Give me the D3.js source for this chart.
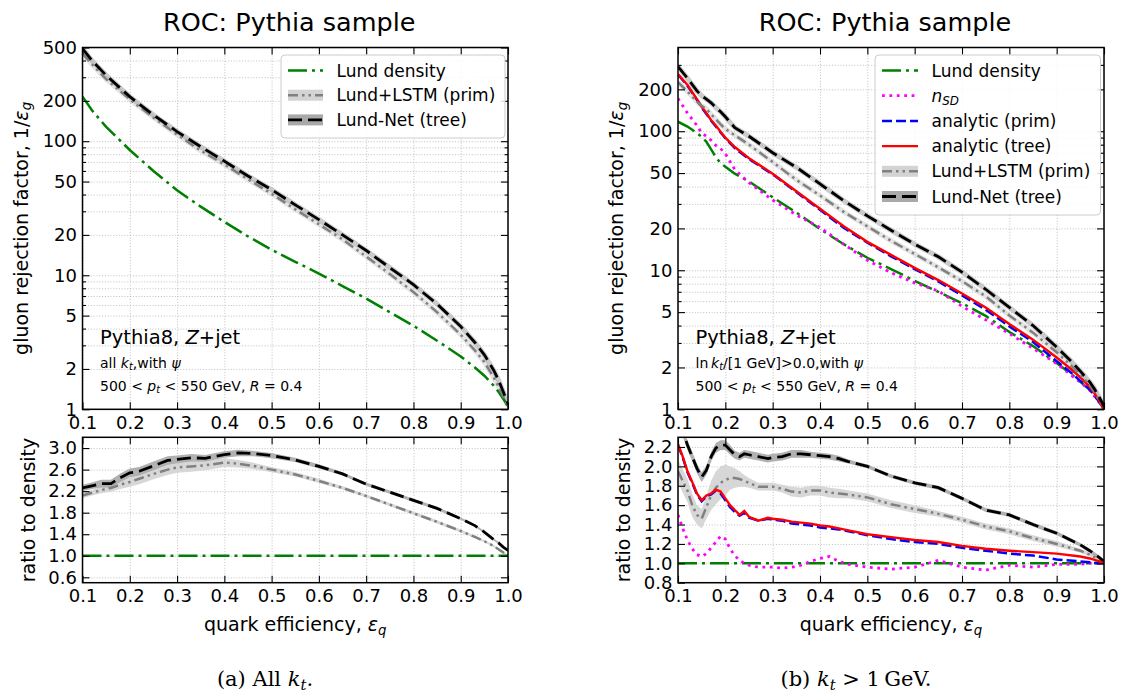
<!DOCTYPE html>
<html lang="en">
<head>
<meta charset="UTF-8" />
<title>ROC: Pythia sample</title>
<script src="https://d3js.org/d3.v7.min.js"></script>
<style>
  body { margin: 0; background: #fff; }
  svg { font-family: "DejaVu Sans", sans-serif; }
</style>
</head>
<body>
<svg width="1128" height="695"></svg>
<script>
// ---------- data: (a) all kt ----------
const effTopA = [0.1, 0.12, 0.15, 0.2, 0.25, 0.3, 0.35, 0.4, 0.45, 0.5, 0.55, 0.6, 0.65, 0.7, 0.75, 0.8, 0.85, 0.9, 0.93, 0.95, 0.97, 0.98, 0.99, 1.0];
const densityA = [215, 170, 128, 86, 60, 43, 32.5, 25, 19.5, 15.5, 12.6, 10.3, 8.3, 6.7, 5.3, 4.2, 3.25, 2.48, 2.05, 1.78, 1.5, 1.35, 1.2, 1.05];
const lstmA = [450, 375, 290, 205, 150, 112, 85, 67, 52, 40.5, 31, 24, 18.5, 13.8, 10.2, 7.5, 5.3, 3.6, 2.75, 2.25, 1.72, 1.47, 1.24, 1.05];
const lundNetA = [490, 400, 310, 215, 157, 118, 91, 71, 55, 43.5, 33.5, 26, 20, 15.3, 11.4, 8.5, 6.1, 4.15, 3.15, 2.55, 1.95, 1.65, 1.35, 1.1];

const effRatioA = [0.1, 0.12, 0.14, 0.16, 0.18, 0.2, 0.22, 0.25, 0.28, 0.3, 0.33, 0.36, 0.4, 0.43, 0.46, 0.5, 0.55, 0.6, 0.65, 0.7, 0.75, 0.8, 0.85, 0.9, 0.93, 0.95, 0.97, 0.98, 0.99, 1.0];
const lstmRatioA = [2.12, 2.17, 2.22, 2.26, 2.32, 2.37, 2.43, 2.52, 2.60, 2.64, 2.66, 2.68, 2.73, 2.71, 2.67, 2.60, 2.51, 2.39, 2.26, 2.11, 1.95, 1.79, 1.63, 1.46, 1.35, 1.27, 1.18, 1.12, 1.06, 1.0];
const lstmErrA = [0.05, 0.05, 0.06, 0.07, 0.08, 0.09, 0.1, 0.1, 0.1, 0.1, 0.1, 0.09, 0.08, 0.07, 0.06, 0.05, 0.04, 0.04, 0.03, 0.03, 0.03, 0.03, 0.03, 0.03, 0.02, 0.02, 0.02, 0.02, 0.02, 0.02];
const netRatioA = [2.26, 2.30, 2.34, 2.34, 2.45, 2.54, 2.57, 2.67, 2.77, 2.79, 2.82, 2.81, 2.88, 2.91, 2.90, 2.86, 2.78, 2.66, 2.52, 2.33, 2.18, 2.03, 1.88, 1.69, 1.56, 1.44, 1.30, 1.24, 1.16, 1.10];
const netErrA = [0.06, 0.06, 0.07, 0.07, 0.08, 0.08, 0.08, 0.08, 0.08, 0.07, 0.07, 0.06, 0.06, 0.06, 0.05, 0.05, 0.04, 0.04, 0.03, 0.03, 0.03, 0.03, 0.03, 0.02, 0.02, 0.02, 0.02, 0.02, 0.02, 0.02];

// ---------- data: (b) kt > 1 GeV ----------
const effTopB = [0.1, 0.12, 0.14, 0.15, 0.16, 0.17, 0.18, 0.19, 0.2, 0.22, 0.25, 0.3, 0.35, 0.4, 0.45, 0.5, 0.55, 0.6, 0.65, 0.7, 0.75, 0.8, 0.85, 0.9, 0.93, 0.95, 0.97, 0.98, 0.99, 1.0];
const densityB = [117, 108, 97, 91, 84, 74, 65, 59, 55.5, 49.5, 43.5, 33.5, 26, 19.8, 15.4, 12.3, 10.2, 8.4, 7.0, 5.8, 4.7, 3.6, 2.85, 2.15, 1.8, 1.58, 1.38, 1.25, 1.13, 1.0];
const nsdB = [172, 135, 110, 97, 92, 86, 79, 75, 69, 53, 42.6, 32, 25, 20.3, 15.4, 11.8, 9.6, 8.1, 7.1, 5.5, 4.4, 3.5, 2.74, 2.13, 1.77, 1.56, 1.37, 1.24, 1.12, 1.0];
const anaPrimB = [255, 212, 168, 148, 133, 119, 108, 98, 89, 75.5, 63, 49, 36.5, 27.2, 20.2, 15.8, 12.6, 10.2, 8.3, 6.6, 5.2, 3.95, 3.05, 2.22, 1.84, 1.6, 1.39, 1.26, 1.13, 1.0];
const anaTreeB = [258, 215, 170, 150, 135, 120, 110, 99, 90, 77, 64, 49.5, 37, 27.7, 20.7, 16.0, 12.9, 10.4, 8.5, 6.8, 5.4, 4.1, 3.17, 2.36, 1.95, 1.7, 1.45, 1.3, 1.15, 1.0];
const lstmB = [225, 193, 163, 152, 145, 132, 122, 112, 104, 93.5, 80, 60, 44.7, 34.5, 26.3, 20.7, 16.3, 13.1, 10.5, 8.35, 6.5, 4.73, 3.56, 2.57, 2.07, 1.77, 1.49, 1.33, 1.16, 1.02];
const lundNetB = [292, 240, 195, 180, 170, 160, 148, 138, 127, 106, 92, 70, 55, 41.8, 31.7, 24.6, 19.4, 15.4, 12.5, 9.7, 7.3, 5.4, 4.0, 2.8, 2.23, 1.88, 1.57, 1.4, 1.22, 1.05];

const effRatioB = [0.1, 0.11, 0.12, 0.13, 0.14, 0.15, 0.16, 0.17, 0.18, 0.19, 0.2, 0.21, 0.22, 0.23, 0.24, 0.25, 0.27, 0.29, 0.3, 0.32, 0.34, 0.36, 0.38, 0.4, 0.42, 0.44, 0.46, 0.5, 0.55, 0.6, 0.65, 0.7, 0.75, 0.8, 0.85, 0.9, 0.95, 0.97, 0.99, 1.0];
const nsdRatioB = [1.50, 1.36, 1.24, 1.15, 1.09, 1.07, 1.10, 1.16, 1.22, 1.28, 1.25, 1.15, 1.08, 1.03, 1.00, 0.98, 0.96, 0.96, 0.96, 0.95, 0.96, 0.98, 1.02, 1.05, 1.07, 1.02, 0.99, 0.96, 0.94, 0.96, 1.03, 0.96, 0.93, 0.98, 0.96, 0.99, 0.99, 1.0, 1.0, 1.0];
const anaPrimRatioB = [2.22, 2.09, 1.94, 1.83, 1.71, 1.64, 1.69, 1.71, 1.75, 1.72, 1.65, 1.58, 1.53, 1.49, 1.52, 1.47, 1.44, 1.46, 1.45, 1.44, 1.41, 1.40, 1.39, 1.37, 1.36, 1.35, 1.33, 1.29, 1.25, 1.22, 1.20, 1.16, 1.13, 1.10, 1.08, 1.04, 1.02, 1.01, 1.0, 1.0];
const anaTreeRatioB = [2.23, 2.10, 1.95, 1.84, 1.72, 1.65, 1.70, 1.72, 1.76, 1.74, 1.67, 1.60, 1.55, 1.50, 1.54, 1.48, 1.44, 1.47, 1.46, 1.45, 1.43, 1.42, 1.41, 1.39, 1.38, 1.36, 1.34, 1.30, 1.27, 1.24, 1.22, 1.18, 1.15, 1.13, 1.115, 1.10, 1.07, 1.05, 1.02, 1.0];
const lstmRatioB = [1.95, 1.85, 1.75, 1.60, 1.50, 1.46, 1.58, 1.70, 1.78, 1.83, 1.86, 1.88, 1.88, 1.87, 1.85, 1.83, 1.79, 1.79, 1.79, 1.77, 1.74, 1.73, 1.75, 1.75, 1.73, 1.72, 1.71, 1.68, 1.61, 1.56, 1.51, 1.45, 1.38, 1.33, 1.26, 1.20, 1.13, 1.09, 1.04, 1.01];
const lstmErrB = [0.12, 0.12, 0.12, 0.12, 0.10, 0.10, 0.12, 0.15, 0.17, 0.17, 0.16, 0.12, 0.10, 0.08, 0.06, 0.05, 0.04, 0.04, 0.04, 0.04, 0.05, 0.05, 0.05, 0.05, 0.05, 0.05, 0.04, 0.04, 0.04, 0.04, 0.03, 0.03, 0.03, 0.03, 0.03, 0.03, 0.02, 0.02, 0.02, 0.02];
const netRatioB = [2.45, 2.36, 2.22, 2.10, 1.98, 1.89, 1.96, 2.10, 2.19, 2.22, 2.22, 2.17, 2.12, 2.10, 2.13, 2.12, 2.10, 2.08, 2.09, 2.10, 2.13, 2.13, 2.12, 2.11, 2.10, 2.08, 2.05, 2.00, 1.90, 1.83, 1.78, 1.67, 1.55, 1.50, 1.40, 1.31, 1.19, 1.13, 1.06, 1.02];
const netErrB = [0.05, 0.05, 0.05, 0.05, 0.05, 0.05, 0.05, 0.05, 0.05, 0.05, 0.05, 0.05, 0.04, 0.04, 0.04, 0.04, 0.04, 0.04, 0.04, 0.04, 0.04, 0.04, 0.03, 0.03, 0.03, 0.03, 0.02, 0.02, 0.02, 0.02, 0.02, 0.02, 0.02, 0.02, 0.02, 0.02, 0.02, 0.02, 0.02, 0.02];

// density divided by itself
const effEnds = [0.1, 1.0];
const densityRatio = [1.0, 1.0];

// ticks
const effTicks = [0.1, 0.2, 0.3, 0.4, 0.5, 0.6, 0.7, 0.8, 0.9, 1.0];
const rejTicksA = [1, 2, 5, 10, 20, 50, 100, 200, 500];
const rejTicksB = [1, 2, 5, 10, 20, 50, 100, 200];
const ratioTicksA = [0.6, 1.0, 1.4, 1.8, 2.2, 2.6, 3.0];
const ratioTicksB = [0.8, 1.0, 1.2, 1.4, 1.6, 1.8, 2.0, 2.2];

const styles = {
  density: { color: "green", width: 2.5, dash: "19,5,3,5" },
  nsd: { color: "#ff00ff", width: 2.8, dash: "2.8,4.6" },
  prim: { color: "blue", width: 2.5, dash: "10,4" },
  tree: { color: "red", width: 2.4, dash: null },
  lstm: { color: "gray", width: 2.5, dash: "10,4,2.5,4,2.5,4", band: "#d3d3d3" },
  net: { color: "black", width: 2.8, dash: "14,6", band: "#a9a9a9" }
};

const svg = d3.select("svg");
const TOP_T = 47.5, TOP_B = 409.3, BOT_T = 437.3, BOT_B = 582.7;
const FONT = "DejaVu Sans, sans-serif";

// text with italic / subscript pieces (mathtext-ish)
function rich(sel, parts, size) {
  let low = false;
  parts.forEach(p => {
    const ts = sel.append("tspan").text(p.t);
    if (p.it) ts.attr("font-style", "italic");
    if (p.sub) {
      ts.attr("font-size", size * 0.7);
      if (!low) ts.attr("dy", size * 0.2);
      low = true;
    } else if (low) {
      ts.attr("dy", -size * 0.2);
      low = false;
    }
  });
  return sel;
}

function drawPanel(p) {
  const x = d3.scaleLinear().domain([0.1, 1.0]).range([p.x0, p.x1]);
  const yTop = d3.scaleLog().domain([1, p.topMax]).range([TOP_B, TOP_T]);
  const yRat = d3.scaleLinear().domain(p.ratioDomain).range([BOT_B, BOT_T]);
  const w = p.x1 - p.x0;

  const minorTop = [];
  for (let dec = 1; dec < p.topMax; dec *= 10)
    for (let k = 2; k < 10; k++) {
      const v = k * dec;
      if (v < p.topMax && !p.topTicks.includes(v)) minorTop.push(v);
    }

  const defs = svg.append("defs");
  defs.append("clipPath").attr("id", p.id + "-top").append("rect")
    .attr("x", p.x0).attr("y", TOP_T).attr("width", w).attr("height", TOP_B - TOP_T);
  defs.append("clipPath").attr("id", p.id + "-bot").append("rect")
    .attr("x", p.x0).attr("y", BOT_T).attr("width", w).attr("height", BOT_B - BOT_T);

  // grid
  function grid(g, axis) {
    g.call(axis);
    g.select(".domain").remove();
    g.selectAll("line").attr("stroke", "#b0b0b0").attr("stroke-width", 0.8).attr("stroke-dasharray", "1,1.8");
  }
  svg.append("g").attr("transform", `translate(0,${TOP_B})`)
    .call(g => grid(g, d3.axisBottom(x).tickValues(effTicks).tickSize(-(TOP_B - TOP_T)).tickFormat("")));
  svg.append("g").attr("transform", `translate(${p.x0},0)`)
    .call(g => grid(g, d3.axisLeft(yTop).tickValues(p.topTicks.concat(minorTop)).tickSize(-w).tickFormat("")));
  svg.append("g").attr("transform", `translate(0,${BOT_B})`)
    .call(g => grid(g, d3.axisBottom(x).tickValues(effTicks).tickSize(-(BOT_B - BOT_T)).tickFormat("")));
  svg.append("g").attr("transform", `translate(${p.x0},0)`)
    .call(g => grid(g, d3.axisLeft(yRat).tickValues(p.ratioTicks).tickSize(-w).tickFormat("")));

  // top panel curves
  const top = svg.append("g").attr("clip-path", `url(#${p.id}-top)`);
  const lineTop = d3.line().x(d => x(d[0])).y(d => yTop(d[1]));
  p.topSeries.forEach(s => {
    if (!s.style.band) return;
    top.append("path").attr("d", lineTop(d3.zip(p.effTop, s.values)))
      .attr("fill", "none").attr("stroke", s.style.band).attr("stroke-width", 5)
      .attr("stroke-linejoin", "round").attr("opacity", 0.6);
  });
  p.topSeries.forEach(s => {
    top.append("path").attr("d", lineTop(d3.zip(p.effTop, s.values)))
      .attr("fill", "none").attr("stroke", s.style.color).attr("stroke-width", s.style.width)
      .attr("stroke-dasharray", s.style.dash);
  });

  // ratio panel
  const bot = svg.append("g").attr("clip-path", `url(#${p.id}-bot)`);
  const lineBot = d3.line().x(d => x(d[0])).y(d => yRat(d[1]));
  const areaBot = d3.area().x(d => x(d[0])).y0(d => yRat(d[1] - d[2])).y1(d => yRat(d[1] + d[2]));
  p.ratioSeries.forEach(s => {
    if (!s.err) return;
    bot.append("path").attr("d", areaBot(d3.zip(s.eff, s.values, s.err)))
      .attr("fill", s.style.band).attr("opacity", 0.9);
  });
  p.ratioSeries.forEach(s => {
    bot.append("path").attr("d", lineBot(d3.zip(s.eff, s.values)))
      .attr("fill", "none").attr("stroke", s.style.color).attr("stroke-width", s.style.width)
      .attr("stroke-dasharray", s.style.dash);
  });

  // ticks
  function ticks(g, axis) {
    g.call(axis);
    g.select(".domain").remove();
    g.attr("font-size", 18).attr("font-family", FONT);
    g.selectAll("line").attr("stroke", "#000").attr("stroke-width", 1.1);
    g.selectAll("text").attr("fill", "#000");
  }
  const fmt = d3.format(".1f");
  [[TOP_B, TOP_T, yTop, p.topTicks, minorTop, d3.format("d")], [BOT_B, BOT_T, yRat, p.ratioTicks, [], fmt]]
    .forEach(([yb, yt, ys, major, minor, yfmt]) => {
      svg.append("g").attr("transform", `translate(0,${yb})`)
        .call(g => ticks(g, d3.axisBottom(x).tickValues(effTicks).tickSize(-7).tickPadding(7).tickFormat(fmt)));
      svg.append("g").attr("transform", `translate(0,${yt})`)
        .call(g => ticks(g, d3.axisTop(x).tickValues(effTicks).tickSize(-7).tickFormat("")));
      svg.append("g").attr("transform", `translate(${p.x0},0)`)
        .call(g => ticks(g, d3.axisLeft(ys).tickValues(major).tickSize(-7).tickPadding(5.5).tickFormat(yfmt)));
      svg.append("g").attr("transform", `translate(${p.x1},0)`)
        .call(g => ticks(g, d3.axisRight(ys).tickValues(major).tickSize(-7).tickFormat("")));
      if (minor.length) {
        svg.append("g").attr("transform", `translate(${p.x0},0)`)
          .call(g => ticks(g, d3.axisLeft(ys).tickValues(minor).tickSize(-3.5).tickFormat("")));
        svg.append("g").attr("transform", `translate(${p.x1},0)`)
          .call(g => ticks(g, d3.axisRight(ys).tickValues(minor).tickSize(-3.5).tickFormat("")));
      }
      svg.append("rect").attr("x", p.x0).attr("y", yt).attr("width", w).attr("height", yb - yt)
        .attr("fill", "none").attr("stroke", "#000").attr("stroke-width", 1.5);
    });

  // titles and axis labels
  svg.append("text").attr("x", (p.x0 + p.x1) / 2 - 6).attr("y", 31)
    .attr("text-anchor", "middle").attr("font-size", 25.5).text("ROC: Pythia sample");

  rich(svg.append("text").attr("text-anchor", "middle").attr("font-size", 19)
    .attr("transform", `translate(${p.x0 - 55},${(TOP_T + TOP_B) / 2}) rotate(-90)`),
    [{ t: "gluon rejection factor, 1/" }, { t: "\u03b5", it: true }, { t: "g", it: true, sub: true }], 19);
  svg.append("text").attr("text-anchor", "middle").attr("font-size", 19)
    .attr("transform", `translate(${p.x0 - 48},${(BOT_T + BOT_B) / 2}) rotate(-90)`)
    .text("ratio to density");
  rich(svg.append("text").attr("x", (p.x0 + p.x1) / 2).attr("y", 631)
    .attr("text-anchor", "middle").attr("font-size", 19),
    [{ t: "quark efficiency, " }, { t: "\u03b5", it: true }, { t: "q", it: true, sub: true }], 19);

  // annotation
  rich(svg.append("text").attr("x", p.x0 + 17.5).attr("y", 344).attr("font-size", 19.5),
    [{ t: "Pythia8, " }, { t: "Z", it: true }, { t: "+jet" }], 19.5);
  rich(svg.append("text").attr("x", p.x0 + 17.5).attr("y", 367.5).attr("font-size", 14), p.cut, 14);
  rich(svg.append("text").attr("x", p.x0 + 17.5).attr("y", 390.5).attr("font-size", 14),
    [{ t: "500 < " }, { t: "p", it: true }, { t: "t", it: true, sub: true }, { t: " < 550 GeV, " },
     { t: "R", it: true }, { t: " = 0.4" }], 14);

  // legend
  const L = p.legend;
  svg.append("rect").attr("x", L.x).attr("y", L.y).attr("width", L.w).attr("height", L.h)
    .attr("rx", 4).attr("fill", "#fff").attr("fill-opacity", 0.85).attr("stroke", "#cccccc").attr("stroke-width", 1);
  L.items.forEach((it, i) => {
    const cy = L.y + 15.5 + i * L.step;
    if (it.style.band)
      svg.append("rect").attr("x", L.sx0).attr("y", cy - 5.5).attr("width", L.sx1 - L.sx0).attr("height", 11)
        .attr("fill", it.style.band);
    svg.append("line").attr("x1", L.sx0).attr("x2", L.sx1).attr("y1", cy).attr("y2", cy)
      .attr("stroke", it.style.color).attr("stroke-width", it.style.width).attr("stroke-dasharray", it.style.dash);
    rich(svg.append("text").attr("x", L.tx).attr("y", cy + 6).attr("font-size", 17), it.label, 17);
  });

  // caption
  rich(svg.append("text").attr("x", p.capX).attr("y", 686).attr("text-anchor", "middle")
    .attr("font-family", "DejaVu Serif, serif").attr("font-size", 21), p.caption, 21);
}

drawPanel({
  id: "a", x0: 82.5, x1: 508, topMax: 500, topTicks: rejTicksA,
  ratioDomain: [0.5, 3.2], ratioTicks: ratioTicksA,
  effTop: effTopA,
  topSeries: [
    { values: densityA, style: styles.density },
    { values: lstmA, style: styles.lstm },
    { values: lundNetA, style: styles.net }
  ],
  ratioSeries: [
    { eff: effEnds, values: densityRatio, style: styles.density },
    { eff: effRatioA, values: lstmRatioA, err: lstmErrA, style: styles.lstm },
    { eff: effRatioA, values: netRatioA, err: netErrA, style: styles.net }
  ],
  cut: [{ t: "all " }, { t: "k", it: true }, { t: "t", it: true, sub: true }, { t: ",with " }, { t: "\u03c8", it: true }],
  legend: {
    x: 281, y: 55, w: 224, h: 83, step: 24.7, sx0: 288, sx1: 323, tx: 336.5,
    items: [
      { style: styles.density, label: [{ t: "Lund density" }] },
      { style: styles.lstm, label: [{ t: "Lund+LSTM (prim)" }] },
      { style: styles.net, label: [{ t: "Lund-Net (tree)" }] }
    ]
  },
  capX: 265,
  caption: [{ t: "(a) All " }, { t: "k", it: true }, { t: "t", it: true, sub: true }, { t: "." }]
});

drawPanel({
  id: "b", x0: 678, x1: 1104, topMax: 400, topTicks: rejTicksB,
  ratioDomain: [0.8, 2.3], ratioTicks: ratioTicksB,
  effTop: effTopB,
  topSeries: [
    { values: densityB, style: styles.density },
    { values: nsdB, style: styles.nsd },
    { values: anaPrimB, style: styles.prim },
    { values: anaTreeB, style: styles.tree },
    { values: lstmB, style: styles.lstm },
    { values: lundNetB, style: styles.net }
  ],
  ratioSeries: [
    { eff: effEnds, values: densityRatio, style: styles.density },
    { eff: effRatioB, values: nsdRatioB, style: styles.nsd },
    { eff: effRatioB, values: lstmRatioB, err: lstmErrB, style: styles.lstm },
    { eff: effRatioB, values: netRatioB, err: netErrB, style: styles.net },
    { eff: effRatioB, values: anaPrimRatioB, style: styles.prim },
    { eff: effRatioB, values: anaTreeRatioB, style: styles.tree }
  ],
  cut: [{ t: "ln\u2009" }, { t: "k", it: true }, { t: "t", it: true, sub: true }, { t: "/[1 GeV]>0.0,with " }, { t: "\u03c8", it: true }],
  legend: {
    x: 875, y: 55, w: 225.5, h: 160, step: 25.2, sx0: 882, sx1: 918, tx: 931.5,
    items: [
      { style: styles.density, label: [{ t: "Lund density" }] },
      { style: styles.nsd, label: [{ t: "n", it: true }, { t: "SD", it: true, sub: true }] },
      { style: styles.prim, label: [{ t: "analytic (prim)" }] },
      { style: styles.tree, label: [{ t: "analytic (tree)" }] },
      { style: styles.lstm, label: [{ t: "Lund+LSTM (prim)" }] },
      { style: styles.net, label: [{ t: "Lund-Net (tree)" }] }
    ]
  },
  capX: 856,
  caption: [{ t: "(b) " }, { t: "k", it: true }, { t: "t", it: true, sub: true }, { t: " > 1\u2009GeV." }]
});
</script>
</body>
</html>
